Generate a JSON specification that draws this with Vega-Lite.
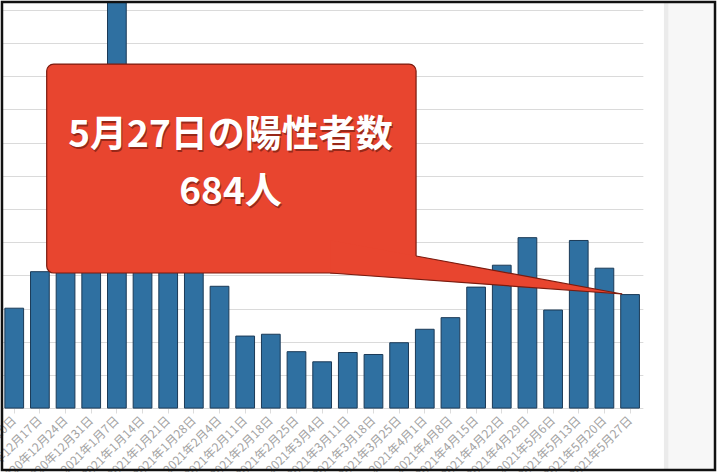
{
  "$schema": "https://vega.github.io/schema/vega-lite/v6.json",
  "width": 713,
  "height": 468,
  "autosize": {"type": "none"},
  "padding": {"left": 2, "top": 2, "right": 5, "bottom": 2},
  "background": "white",
  "config": {"view": {"stroke": null}, "font": "Noto Sans CJK JP"},
  "datasets": {
    "cases": [
      {"date": "2020年12月10日", "cases": 602},
      {"date": "2020年12月17日", "cases": 822},
      {"date": "2020年12月24日", "cases": 888},
      {"date": "2020年12月31日", "cases": 1337},
      {"date": "2021年1月7日", "cases": 2447},
      {"date": "2021年1月14日", "cases": 1502},
      {"date": "2021年1月21日", "cases": 1471},
      {"date": "2021年1月28日", "cases": 1064},
      {"date": "2021年2月4日", "cases": 734},
      {"date": "2021年2月11日", "cases": 434},
      {"date": "2021年2月18日", "cases": 445},
      {"date": "2021年2月25日", "cases": 340},
      {"date": "2021年3月4日", "cases": 279},
      {"date": "2021年3月11日", "cases": 335},
      {"date": "2021年3月18日", "cases": 323},
      {"date": "2021年3月25日", "cases": 394},
      {"date": "2021年4月1日", "cases": 475},
      {"date": "2021年4月8日", "cases": 545},
      {"date": "2021年4月15日", "cases": 729},
      {"date": "2021年4月22日", "cases": 861},
      {"date": "2021年4月29日", "cases": 1027},
      {"date": "2021年5月6日", "cases": 591},
      {"date": "2021年5月13日", "cases": 1010},
      {"date": "2021年5月20日", "cases": 843},
      {"date": "2021年5月27日", "cases": 684}
    ],
    "tail": [
      {"pos": 12.81, "upper": 1012, "lower": 814},
      {"pos": 24.19, "upper": 687.5, "lower": 687.5}
    ]
  },
  "layer": [
    {
      "data": {"name": "cases"},
      "mark": {"type": "bar", "fill": "#2f70a1", "stroke": "#1b3a57", "strokeWidth": 1},
      "encoding": {
        "x": {
          "field": "date", "type": "nominal", "sort": null,
          "scale": {"range": [-0.6, 640.9], "paddingInner": 0.27, "paddingOuter": 0.135},
          "axis": {
            "title": null, "labelAngle": -45, "labelAlign": "right", "labelBaseline": "middle",
            "labelFontSize": 12, "labelColor": "#a3a3a3", "labelFont": "Noto Sans CJK JP",
            "labelPadding": 5, "labelOverlap": false, "labelBound": false, "labelFlush": false,
            "tickColor": "#dcdcdc", "tickSize": 5, "domain": false, "grid": false, "offset": -62
          }
        },
        "y": {
          "field": "cases", "type": "quantitative",
          "scale": {"domain": [-373, 2447], "nice": false, "zero": false},
          "axis": {
            "title": null, "labels": false, "ticks": false, "domain": false, "grid": true,
            "gridColor": "#dadada", "labelOverlap": false,
            "values": [0, 200, 400, 600, 800, 1000, 1200, 1400, 1600, 1800, 2000, 2200, 2400]
          }
        }
      }
    },
    {
      "data": {"values": [{}]},
      "layer": [
        {
          "mark": {"type": "rect", "fill": "white"},
          "encoding": {
            "x": {"datum": 25.04, "type": "quantitative", "scale": {"domain": [0, 25], "range": [-0.6, 640.9], "nice": false, "zero": false}, "axis": null},
            "x2": {"datum": 25.82},
            "y": {"datum": -373, "type": "quantitative", "scale": {"domain": [-373, 2447], "nice": false, "zero": false}, "axis": null},
            "y2": {"datum": 2447}
          }
        },
        {
          "mark": {"type": "rect", "fill": "#f7f7f7"},
          "encoding": {
            "x": {"datum": 25.82, "type": "quantitative", "scale": {"domain": [0, 25], "range": [-0.6, 640.9], "nice": false, "zero": false}, "axis": null},
            "x2": {"datum": 27.81},
            "y": {"datum": -373, "type": "quantitative", "scale": {"domain": [-373, 2447], "nice": false, "zero": false}, "axis": null},
            "y2": {"datum": 2447}
          }
        },
        {
          "mark": {"type": "rect", "fill": "#ebebeb"},
          "encoding": {
            "x": {"datum": 25.82, "type": "quantitative", "scale": {"domain": [0, 25], "range": [-0.6, 640.9], "nice": false, "zero": false}, "axis": null},
            "x2": {"datum": 25.99},
            "y": {"datum": -373, "type": "quantitative", "scale": {"domain": [-373, 2447], "nice": false, "zero": false}, "axis": null},
            "y2": {"datum": 2447}
          }
        },
        {
          "mark": {"type": "rect", "fill": "#e8452f", "stroke": "#7a1b0f", "strokeWidth": 1.2, "cornerRadius": 7},
          "encoding": {
            "x": {"datum": 1.765, "type": "quantitative", "scale": {"domain": [0, 25], "range": [-0.6, 640.9], "nice": false, "zero": false}, "axis": null},
            "x2": {"datum": 16.16},
            "y": {"datum": 814, "type": "quantitative", "scale": {"domain": [-373, 2447], "nice": false, "zero": false}, "axis": null},
            "y2": {"datum": 2073}
          }
        },
        {
          "data": {"name": "tail"},
          "mark": {"type": "area", "fill": "#e8452f"},
          "encoding": {
            "x": {"field": "pos", "type": "quantitative", "scale": {"domain": [0, 25], "range": [-0.6, 640.9], "nice": false, "zero": false}, "axis": null},
            "y": {"field": "upper", "type": "quantitative", "scale": {"domain": [-373, 2447], "nice": false, "zero": false}, "axis": null},
            "y2": {"field": "lower"}
          }
        },
        {
          "mark": {"type": "rule", "stroke": "#7a1b0f", "strokeWidth": 1.2},
          "encoding": {
            "x": {"datum": 16.16, "type": "quantitative", "scale": {"domain": [0, 25], "range": [-0.6, 640.9], "nice": false, "zero": false}, "axis": null},
            "x2": {"datum": 24.19},
            "y": {"datum": 916.5, "type": "quantitative", "scale": {"domain": [-373, 2447], "nice": false, "zero": false}, "axis": null},
            "y2": {"datum": 687.5}
          }
        },
        {
          "mark": {"type": "rule", "stroke": "#7a1b0f", "strokeWidth": 1.2},
          "encoding": {
            "x": {"datum": 12.81, "type": "quantitative", "scale": {"domain": [0, 25], "range": [-0.6, 640.9], "nice": false, "zero": false}, "axis": null},
            "x2": {"datum": 24.19},
            "y": {"datum": 814, "type": "quantitative", "scale": {"domain": [-373, 2447], "nice": false, "zero": false}, "axis": null},
            "y2": {"datum": 687.5}
          }
        },
        {
          "mark": {"type": "text", "text": "5月27日の陽性者数", "font": "Noto Sans CJK JP", "fontSize": 37, "fontWeight": "bold", "fill": "#4a0d05", "opacity": 0.5, "dx": 1, "dy": 2, "align": "center", "baseline": "alphabetic"},
          "encoding": {
            "x": {"datum": 8.93, "type": "quantitative", "scale": {"domain": [0, 25], "range": [-0.6, 640.9], "nice": false, "zero": false}, "axis": null},
            "y": {"datum": 1573, "type": "quantitative", "scale": {"domain": [-373, 2447], "nice": false, "zero": false}, "axis": null}
          }
        },
        {
          "mark": {"type": "text", "text": "684人", "font": "Noto Sans CJK JP", "fontSize": 37, "fontWeight": "bold", "fill": "#4a0d05", "opacity": 0.5, "dx": 1, "dy": 2, "align": "center", "baseline": "alphabetic"},
          "encoding": {
            "x": {"datum": 8.93, "type": "quantitative", "scale": {"domain": [0, 25], "range": [-0.6, 640.9], "nice": false, "zero": false}, "axis": null},
            "y": {"datum": 1230, "type": "quantitative", "scale": {"domain": [-373, 2447], "nice": false, "zero": false}, "axis": null}
          }
        },
        {
          "mark": {"type": "text", "text": "5月27日の陽性者数", "font": "Noto Sans CJK JP", "fontSize": 37, "fontWeight": "bold", "fill": "#ffffff", "align": "center", "baseline": "alphabetic"},
          "encoding": {
            "x": {"datum": 8.93, "type": "quantitative", "scale": {"domain": [0, 25], "range": [-0.6, 640.9], "nice": false, "zero": false}, "axis": null},
            "y": {"datum": 1573, "type": "quantitative", "scale": {"domain": [-373, 2447], "nice": false, "zero": false}, "axis": null}
          }
        },
        {
          "mark": {"type": "text", "text": "684人", "font": "Noto Sans CJK JP", "fontSize": 37, "fontWeight": "bold", "fill": "#ffffff", "align": "center", "baseline": "alphabetic"},
          "encoding": {
            "x": {"datum": 8.93, "type": "quantitative", "scale": {"domain": [0, 25], "range": [-0.6, 640.9], "nice": false, "zero": false}, "axis": null},
            "y": {"datum": 1230, "type": "quantitative", "scale": {"domain": [-373, 2447], "nice": false, "zero": false}, "axis": null}
          }
        },
        {
          "mark": {"type": "rect", "filled": false, "stroke": "#111111", "strokeWidth": 2.5},
          "encoding": {
            "x": {"datum": 0.023, "type": "quantitative", "scale": {"domain": [0, 25], "range": [-0.6, 640.9], "nice": false, "zero": false}, "axis": null},
            "x2": {"datum": 27.81},
            "y": {"datum": -373, "type": "quantitative", "scale": {"domain": [-373, 2447], "nice": false, "zero": false}, "axis": null},
            "y2": {"datum": 2447}
          }
        }
      ]
    }
  ],
  "resolve": {"scale": {"x": "independent", "y": "independent"}}
}
